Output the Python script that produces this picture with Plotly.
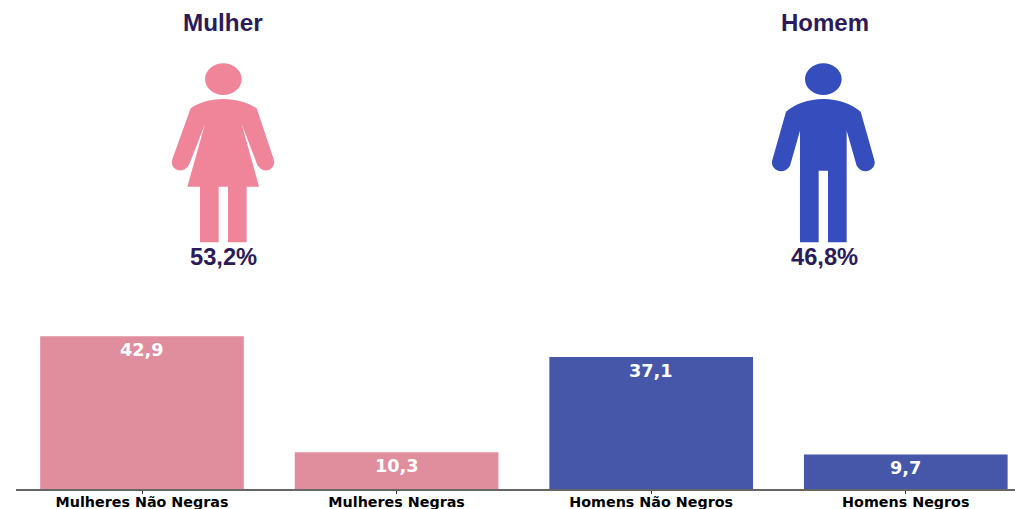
import plotly.graph_objects as go

categories = ["Mulheres Não Negras", "Mulheres Negras", "Homens Não Negros", "Homens Negros"]
values = [42.9, 10.3, 37.1, 9.7]
value_labels = ["42,9", "10,3", "37,1", "9,7"]
bar_colors = ["#E08E9E", "#E08E9E", "#4657AA", "#4657AA"]

W, H = 1015, 509
ML, MR, MT, MB = 16, 0, 300, 20
DARK = "#2B1B5A"
WOMAN = "#F08498"
MAN = "#354DBD"


def px(x):
    return (x - ML) / (W - ML - MR)


def py(y):
    return 1 - (y - MT) / (H - MT - MB)


def icon_pt(zx, zy, ox):
    return f"{px(ox + zx / 3):.5f},{py(zy / 3):.5f}"


def build_path(cmds, ox):
    out = []
    for c in cmds:
        letter, pts = c[0], c[1:]
        if letter == "Z":
            out.append("Z")
        else:
            out.append(letter + " ".join(icon_pt(a, b, ox).replace(",", " ") for a, b in pts))
    return " ".join(out)


woman_body = [
    ("M", (220, 297)), ("C", (260, 297), (295, 308), (320, 325)),
    ("L", (371, 478)), ("C", (380, 505), (345, 528), (322, 495)),
    ("L", (275, 372)), ("L", (327, 560)), ("L", (290, 560)), ("L", (290, 727)),
    ("L", (234, 727)), ("L", (234, 560)), ("L", (206, 560)), ("L", (206, 727)),
    ("L", (150, 727)), ("L", (150, 560)), ("L", (112, 560)), ("L", (165, 372)),
    ("L", (117, 495)), ("C", (94, 528), (58, 505), (67, 478)),
    ("L", (122, 325)), ("C", (145, 308), (180, 297), (220, 297)), ("Z",),
]
man_body = [
    ("M", (220, 297)), ("C", (265, 297), (305, 312), (332, 335)),
    ("L", (373, 480)), ("C", (382, 508), (340, 530), (320, 497)),
    ("L", (290, 392)), ("L", (290, 727)), ("L", (234, 727)), ("L", (234, 512)),
    ("L", (206, 512)), ("L", (206, 727)), ("L", (150, 727)), ("L", (150, 392)),
    ("L", (120, 497)), ("C", (100, 530), (58, 508), (67, 480)),
    ("L", (108, 335)), ("C", (135, 312), (175, 297), (220, 297)), ("Z",),
]

fig = go.Figure(go.Bar(x=list(range(4)), y=values, width=0.8,
                       marker=dict(color=bar_colors, line=dict(width=0))))

shapes = []
for ox, col, body in [(150, WOMAN, woman_body), (750, MAN, man_body)]:
    shapes.append(dict(type="circle", xref="paper", yref="paper",
                       x0=px(ox + 165 / 3), x1=px(ox + 275 / 3),
                       y0=py(285 / 3), y1=py(190 / 3),
                       fillcolor=col, line=dict(width=0)))
    shapes.append(dict(type="path", xref="paper", yref="paper",
                       path=build_path(body, ox), fillcolor=col, line=dict(width=0)))

annotations = []
for i, lab in enumerate(value_labels):
    annotations.append(dict(x=i, y=values[i], text=f"<b>{lab}</b>", showarrow=False,
                            yshift=-14, yanchor="middle", xanchor="center",
                            font=dict(family="DejaVu Sans", size=17.7, color="white")))
for xp, yp, txt, size in [(223, 22, "Mulher", 24.3), (825, 22, "Homem", 24),
                          (223.5, 257, "53,2%", 23.7), (824, 257, "46,8%", 23.7)]:
    annotations.append(dict(xref="paper", yref="paper", x=px(xp), y=py(yp), text=f"<b>{txt}</b>",
                            showarrow=False, xanchor="center", yanchor="middle",
                            font=dict(family="Liberation Sans", size=size, color=DARK)))

fig.update_layout(
    width=W, height=H, margin=dict(l=ML, r=MR, t=MT, b=MB, autoexpand=False),
    paper_bgcolor="white", plot_bgcolor="white", showlegend=False,
    shapes=shapes, annotations=annotations, bargap=0.2,
)
fig.update_xaxes(range=[-0.4949, 3.429], tickmode="array", tickvals=list(range(4)),
                 ticktext=[f"<b>{c}</b>" for c in categories], showgrid=False, zeroline=False,
                 showline=True, linecolor="#666666", linewidth=1.5,
                 ticks="outside", ticklen=3, tickcolor="#333333", tickwidth=1,
                 ticklabelstandoff=-4,
                 tickfont=dict(family="DejaVu Sans", size=14.3, color="black"))
fig.update_yaxes(range=[0, 189 / 3.56], visible=False)

fig.write_html("out.html", config={"displayModeBar": False},
               post_script="document.body.style.margin='0';document.body.style.overflow='hidden';")
